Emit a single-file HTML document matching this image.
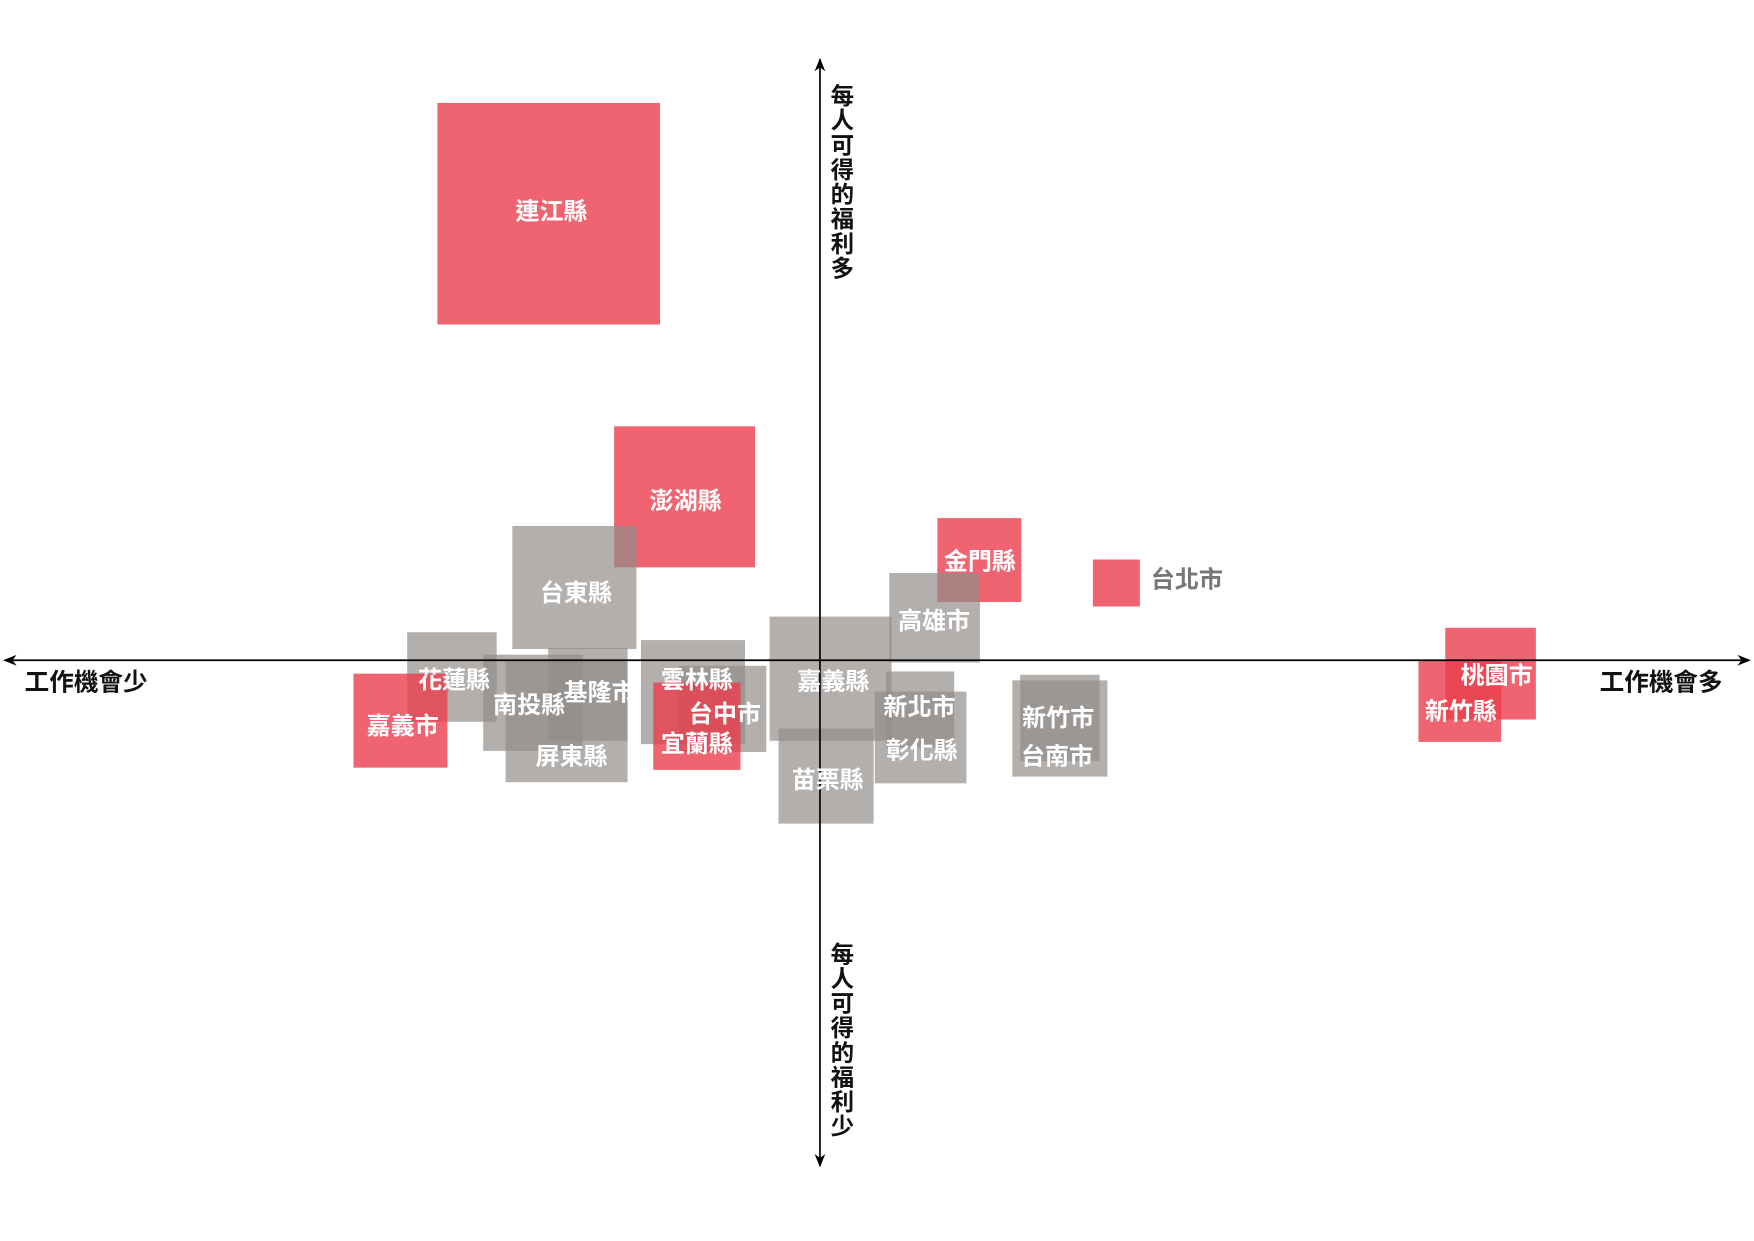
<!DOCTYPE html>
<html><head><meta charset="utf-8">
<style>
html,body{margin:0;padding:0;background:#fff;}
svg{display:block;}
text{font-family:"Liberation Sans","Noto Sans CJK TC",sans-serif;}
</style></head>
<body>
<svg id="chart" width="1754" height="1241" viewBox="0 0 1568 1109" preserveAspectRatio="none" xmlns="http://www.w3.org/2000/svg">
<defs>
<marker id="ah" viewBox="0 0 10 10" refX="9" refY="5" markerWidth="8" markerHeight="8" orient="auto-start-reverse">
<path d="M0,1 L10,5 L0,9 L3,5 Z" fill="#000"/>
</marker>
</defs>
<g id="rects"></g>
<line x1="4" y1="590" x2="1564" y2="590" stroke="#000" stroke-width="1.5" marker-start="url(#ah)" marker-end="url(#ah)"/>
<line x1="733" y1="53" x2="733" y2="1042" stroke="#000" stroke-width="1.5" marker-start="url(#ah)" marker-end="url(#ah)"/>
<g id="labels"></g>
<text x="22" y="617" font-size="22" font-weight="bold" fill="#111">工作機會少</text>
<text x="1430" y="617" font-size="22" font-weight="bold" fill="#111">工作機會多</text>
<g id="ytop"></g>
<g id="ybot"></g>
</svg>
<script>
const names=["連江縣","澎湖縣","台東縣","金門縣","台北市","高雄市","桃園市","新竹縣","花蓮縣","嘉義市","南投縣","基隆市","屏東縣","雲林縣","台中市","宜蘭縣","嘉義縣","苗栗縣","新北市","彰化縣","新竹市","台南市"];
const jobs=[-242.5,-121,-219.5,142.5,265,102.5,599.5,572,-329,-375,-256.5,-207.5,-226.5,-113.5,-87,-110,9.5,5.5,89.5,90,214.5,214.5];
const welfare=[399,146,65,89.5,69,38,-12,-36.5,-15,-54,-38,-30.5,-54.5,-28.5,-43.5,-59,-16.5,-103.5,-44,-69,-51.5,-61];
const widths=[199,126,111,75,42,81,81,74,80,84,89,71,109,93,78,78,109,85,61,82,71,85];
const heights=[198,126,110,75,42,80,82,73,80,84,86,83,109,93,77,78,111,85,68,82,77,86];
const highlight=[1,1,0,1,1,0,1,1,0,1,0,0,0,0,0,1,0,0,0,0,0,0];
const labelDx=[2.5,1,1.5,0.5,63,-0.5,5.5,1,2,2,-3.5,10.5,4.5,3.5,2,0,2.5,1.5,-0.5,1,-1.5,-2.5];
const labelDy=[-3,3,4,0.5,-4,2,1,8.5,2,4,1,-2.5,30.5,-11.5,3.5,15,1.5,2.5,-3,11,-0.5,24];

const X0=733,Y0=590;
function xs(v){return X0+v;}
function ys(v){return Y0-v;}
const NS="http://www.w3.org/2000/svg";
const gR=document.getElementById('rects'), gL=document.getElementById('labels');
for(let i=0;i<names.length;i++){
  const cx=xs(jobs[i]), cy=ys(welfare[i]);
  const r=document.createElementNS(NS,'rect');
  r.setAttribute('x',cx-widths[i]/2);
  r.setAttribute('y',cy-heights[i]/2);
  r.setAttribute('width',widths[i]);
  r.setAttribute('height',heights[i]);
  r.setAttribute('fill',highlight[i]?'rgba(235,61,76,0.8)':'rgba(146,141,138,0.7)');
  
  
  gR.appendChild(r);
  const t=document.createElementNS(NS,'text');
  t.setAttribute('x',cx+labelDx[i]);
  t.setAttribute('y',cy+labelDy[i]+8);
  t.setAttribute('text-anchor','middle');
  t.setAttribute('font-size','21.5');
  t.setAttribute('font-weight','bold');
  const outside=names[i]==="台北市";
  t.setAttribute('fill',outside?'#777':'#fff');
  t.textContent=names[i];
  
  
  gL.appendChild(t);
}
function vtext(id,str,y0){
  const g=document.getElementById(id);
  [...str].forEach((c,k)=>{
    const t=document.createElementNS(NS,'text');
    t.setAttribute('x',753);
    t.setAttribute('y',y0+k*22);
    t.setAttribute('text-anchor','middle');
    t.setAttribute('font-size','21');
    t.setAttribute('font-weight','bold');
    t.setAttribute('fill','#111');
    t.textContent=c;
    g.appendChild(t);
  });
}
vtext('ytop','每人可得的福利多',93);
vtext('ybot','每人可得的福利少',860);
</script>
</body></html>
